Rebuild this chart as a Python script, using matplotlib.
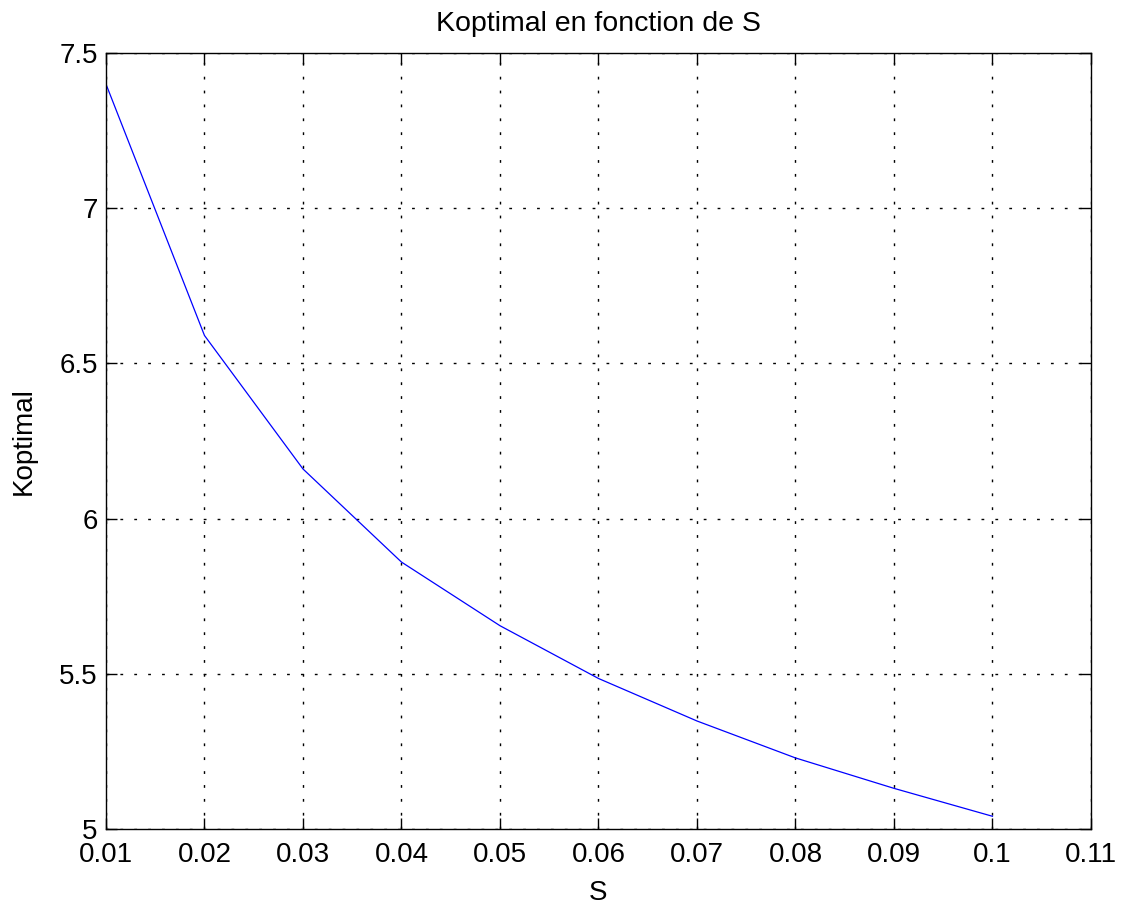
import matplotlib
matplotlib.use("Agg")
import matplotlib.pyplot as plt

plt.rcParams['font.family'] = ['Liberation Sans', 'DejaVu Sans']

# data
S = [0.01, 0.02, 0.03, 0.04, 0.05, 0.06, 0.07, 0.08, 0.09, 0.10]
Koptimal = [7.40, 6.59, 6.16, 5.86, 5.655, 5.485, 5.348, 5.229, 5.131, 5.041]

xticks = [0.01, 0.02, 0.03, 0.04, 0.05, 0.06, 0.07, 0.08, 0.09, 0.1, 0.11]
xticklabels = ["0.01", "0.02", "0.03", "0.04", "0.05", "0.06", "0.07", "0.08", "0.09", "0.1", "0.11"]
yticks = [5, 5.5, 6, 6.5, 7, 7.5]
yticklabels = ["5", "5.5", "6", "6.5", "7", "7.5"]

fig = plt.figure(figsize=(11.31, 9.08), dpi=100)
ax = fig.add_axes([0.0937, 0.087, 0.8709, 0.8546])

ax.plot(S, Koptimal, color="#0000ff", linewidth=0.9)

ax.set_xlim(0.01, 0.11)
ax.set_ylim(5, 7.5)
ax.set_xticks(xticks)
ax.set_xticklabels(xticklabels)
ax.set_yticks(yticks)
ax.set_yticklabels(yticklabels)

ax.grid(True, color="black", linestyle=(0, (2, 8)), linewidth=1.0)
ax.tick_params(direction="in", length=8, width=1, top=True, right=True,
               labelsize=20)
ax.tick_params(axis="x", pad=9)
ax.tick_params(axis="y", pad=6)
for sp in ax.spines.values():
    sp.set_linewidth(1.0)

ax.set_title("Koptimal en fonction de S", fontsize=20.5, pad=16)
ax.set_xlabel("S", fontsize=20, labelpad=9)
ax.set_ylabel("Koptimal", fontsize=20, labelpad=16)

fig.savefig("out.png", dpi=100)
